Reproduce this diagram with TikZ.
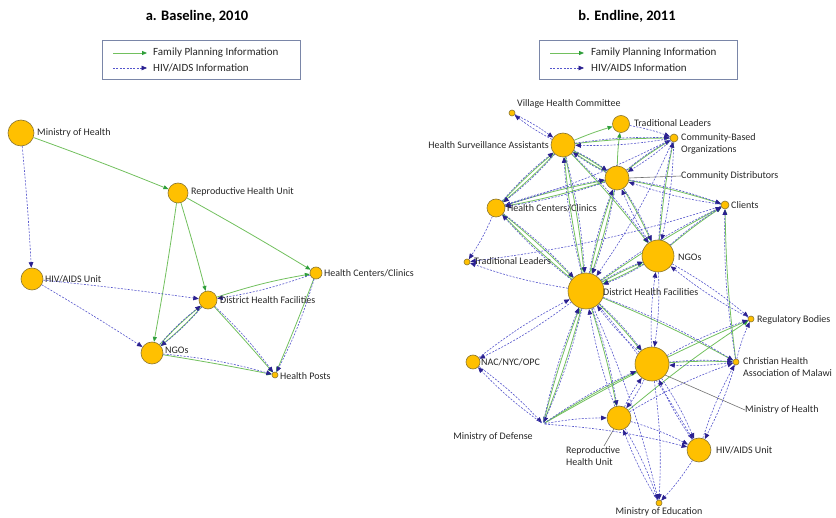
\documentclass[tikz,border=0pt]{standalone}
\usepackage{fontspec}
\setmainfont{Carlito}
\usetikzlibrary{arrows.meta}
\definecolor{nodefill}{HTML}{FFC000}
\definecolor{nodeedge}{HTML}{8A7530}
\definecolor{fpgreen}{HTML}{72C05E}
\definecolor{fptip}{HTML}{2E9E3A}
\definecolor{hvblue}{HTML}{5555CC}
\definecolor{hvtip}{HTML}{2A2090}
\definecolor{legedge}{HTML}{7A86A8}
\definecolor{leader}{HTML}{707070}
\pgfdeclarelayer{bg}
\pgfsetlayers{bg,main}
\begin{document}
\begin{tikzpicture}[x=1pt,y=-1pt,
  nd/.style={circle,fill=nodefill,draw=nodeedge,line width=0.6pt,inner sep=0pt,minimum size=#1pt},
  ghost/.style={circle,inner sep=0pt,minimum size=#1pt},
  lbl/.style={font=\fontsize{10}{12}\selectfont,inner sep=0pt,text=black!85,align=left},
  ttl/.style={font=\fontsize{14.5}{16}\selectfont\bfseries,inner sep=0pt},
  legtxt/.style={font=\fontsize{11}{13}\selectfont,inner sep=0pt,anchor=west,text=black!85},
  legbox/.style={draw=legedge,line width=0.8pt,fill=white,inner sep=0pt},
  fp/.style={draw=fpgreen,line width=0.8pt,-{Triangle[length=5pt,width=4pt,color=fptip]}},
  hv/.style={draw=hvblue,line width=0.6pt,dash pattern=on 2pt off 1.4pt,-{Triangle[length=5.5pt,width=4.6pt,color=hvtip]}},
  lead/.style={draw=leader,line width=0.6pt}
]
\useasboundingbox (0,0) rectangle (836,518);

% ---------------- titles and legends ----------------
\node[ttl] (ta) at (197,16) {a. Baseline, 2010};
\node[ttl] (tb) at (627,16) {b. Endline, 2011};

\node[legbox,minimum width=198pt,minimum height=39pt] (lega) at (201,59.5) {};
\coordinate (la1s) at (113,53); \coordinate (la1e) at (147,53);
\coordinate (la2s) at (113,68); \coordinate (la2e) at (147,68);
\draw[fp] (la1s) -- (la1e);
\draw[hv] (la2s) -- (la2e);
\node[legtxt] (lat1) at (153,53) {Family Planning Information};
\node[legtxt] (lat2) at (153,68) {HIV/AIDS Information};

\node[legbox,minimum width=198pt,minimum height=39pt] (legb) at (638.5,59.5) {};
\coordinate (lb1s) at (550,53); \coordinate (lb1e) at (584,53);
\coordinate (lb2s) at (550,68); \coordinate (lb2e) at (584,68);
\draw[fp] (lb1s) -- (lb1e);
\draw[hv] (lb2s) -- (lb2e);
\node[legtxt] (lbt1) at (591,53) {Family Planning Information};
\node[legtxt] (lbt2) at (591,68) {HIV/AIDS Information};

% ---------------- panel a nodes ----------------
\node[nd=26] (mohL) at (21,133) {};
\node[nd=20] (rhuL) at (178,193) {};
\node[nd=22] (hivL) at (32,279) {};
\node[nd=18] (dhfL) at (208,300) {};
\node[nd=12] (hccL) at (316,273) {};
\node[nd=22] (ngoL) at (152,353) {};
\node[nd=6]  (hpL)  at (275,375) {};

\node[lbl,anchor=west] (mohLt) at (37,133) {Ministry of Health};
\node[lbl,anchor=west] (rhuLt) at (191,192) {Reproductive Health Unit};
\node[lbl,anchor=west] (hivLt) at (45,279) {HIV/AIDS Unit};
\node[lbl,anchor=west] (dhfLt) at (220,300) {District Health Facilities};
\node[lbl,anchor=west] (hccLt) at (324,273) {Health Centers/Clinics};
\node[lbl,anchor=west] (ngoLt) at (165,350) {NGOs};
\node[lbl,anchor=west] (hpLt)  at (280,376) {Health Posts};

\begin{pgfonlayer}{bg}
\foreach \a/\b in {mohL/rhuL, rhuL/ngoL, rhuL/dhfL, rhuL/hccL, dhfL/hpL, hccL/hpL, ngoL/hpL}
  \draw[fp] (\a) to[bend left=1] (\b);
\foreach \a/\b in {dhfL/hccL, dhfL/ngoL, ngoL/dhfL}
  \draw[fp] (\a) to[bend left=4] (\b);
\foreach \a/\b in {mohL/hivL, hivL/dhfL, hivL/ngoL}
  \draw[hv] (\a) to[bend left=1] (\b);
\foreach \a/\b in {hccL/dhfL, dhfL/ngoL, ngoL/dhfL, dhfL/hpL, hccL/hpL, ngoL/hpL}
  \draw[hv] (\a) to[bend left=5] (\b);
\end{pgfonlayer}

% ---------------- panel b nodes ----------------
\node[nd=6]  (vhc)  at (512,113) {};
\node[nd=17] (tlt)  at (621,124) {};
\node[nd=8]  (cbo)  at (674,138) {};
\node[nd=24] (hsa)  at (563,145) {};
\node[nd=24] (cd)   at (617,178) {};
\node[nd=18] (hcc)  at (496,208) {};
\node[nd=8]  (cli)  at (725,205) {};
\node[nd=6]  (tll)  at (467,262) {};
\node[nd=32] (ngo)  at (658,256) {};
\node[nd=36] (dhf)  at (586,291) {};
\node[nd=6]  (rb)   at (751,319) {};
\node[nd=14] (nac)  at (473,362) {};
\node[ghost=3] (mod) at (543,424) {};
\node[nd=34] (moh)  at (652,364) {};
\node[nd=6]  (cham) at (736,362) {};
\node[nd=24] (rhu)  at (619,418) {};
\node[nd=24] (hiv)  at (699,450) {};
\node[nd=6]  (moe)  at (659,503) {};

\node[lbl,anchor=west] (vhct) at (517,104) {Village Health Committee};
\node[lbl,anchor=west] (tltt) at (634,123) {Traditional Leaders};
\node[lbl,anchor=west] (cbot) at (681,144) {Community-Based\\Organizations};
\node[lbl,anchor=east] (hsat) at (549,145) {Health Surveillance Assistants};
\node[lbl,anchor=west] (cdt)  at (681,176) {Community Distributors};
\node[lbl,anchor=west] (hcct) at (507,208) {Health Centers/Clinics};
\node[lbl,anchor=west] (clit) at (731,205) {Clients};
\node[lbl,anchor=west] (tllt) at (474,261) {Traditional Leaders};
\node[lbl,anchor=west] (ngot) at (678,257) {NGOs};
\node[lbl,anchor=west] (dhft) at (603,292) {District Health Facilities};
\node[lbl,anchor=west] (rbt)  at (757,320) {Regulatory Bodies};
\node[lbl,anchor=west] (nact) at (481,362) {NAC/NYC/OPC};
\node[lbl,anchor=center] (modt) at (493,437) {Ministry of Defense};
\node[lbl,anchor=west] (chamt) at (743,367) {Christian Health\\Association of Malawi};
\node[lbl,anchor=west] (moht) at (745,410) {Ministry of Health};
\node[lbl,anchor=north west] (rhut) at (566,446) {Reproductive\\Health Unit};
\node[lbl,anchor=west] (hivt) at (716,450) {HIV/AIDS Unit};
\node[lbl,anchor=center] (moet) at (659,512) {Ministry of Education};

\begin{pgfonlayer}{bg}
\draw[lead] (cd.east) -- (cdt.west);
\draw[lead] (moh.-40) -- (moht.west);
\draw[lead] (rhu.-115) -- ([xshift=38pt]rhut.north west);
\foreach \a/\b in {hsa/tlt, hsa/cbo, cd/hsa, hsa/cd, hcc/hsa, hsa/hcc, dhf/hsa, hsa/dhf, hsa/ngo,
  cd/tlt, cd/cbo, cd/cli, hcc/cd, cd/hcc, dhf/cd, cd/dhf, cd/ngo, ngo/cbo, cham/cli,
  hcc/dhf, dhf/hcc, dhf/ngo, ngo/dhf, ngo/cli, dhf/cli, mod/dhf, dhf/mod, dhf/rhu,
  dhf/moh, moh/cham, dhf/cham, mod/rb, rhu/rb, mod/moh}
  \draw[fp] (\a) to[bend left=3] (\b);
\foreach \a/\b in {hsa/vhc, vhc/hsa, hsa/cbo, cbo/hsa, tlt/cbo, hsa/cd, cd/hsa, hsa/hcc, hcc/hsa,
  hsa/dhf, dhf/hsa, hsa/ngo, cd/cbo, cbo/cd, cbo/dhf, cbo/ngo, ngo/cbo, cbo/hcc, hcc/cd, cd/hcc,
  cd/cli, cli/cd, cd/dhf, dhf/cd, cd/ngo, ngo/cd, hcc/tll, hcc/dhf, dhf/hcc, cli/tll, dhf/tll,
  dhf/ngo, ngo/dhf, dhf/cli, ngo/cli, ngo/rb, rb/ngo, ngo/moh, moh/ngo, dhf/nac, nac/dhf,
  nac/mod, mod/nac, dhf/mod, mod/dhf, dhf/rhu, rhu/dhf, dhf/moh, moh/dhf, dhf/hiv, dhf/moe,
  dhf/cham, moh/cham, cham/moh, cham/rb, moh/rb, mod/rhu, mod/moh, mod/hiv, moh/rhu, rhu/moh,
  moh/hiv, hiv/moh, rhu/hiv, rhu/moe, moe/rhu, moh/moe, hiv/moe, cham/hiv, hiv/cham, rhu/cham,
  cham/cli}
  \draw[hv] (\a) to[bend left=5] (\b);
\end{pgfonlayer}
\end{tikzpicture}
\end{document}
